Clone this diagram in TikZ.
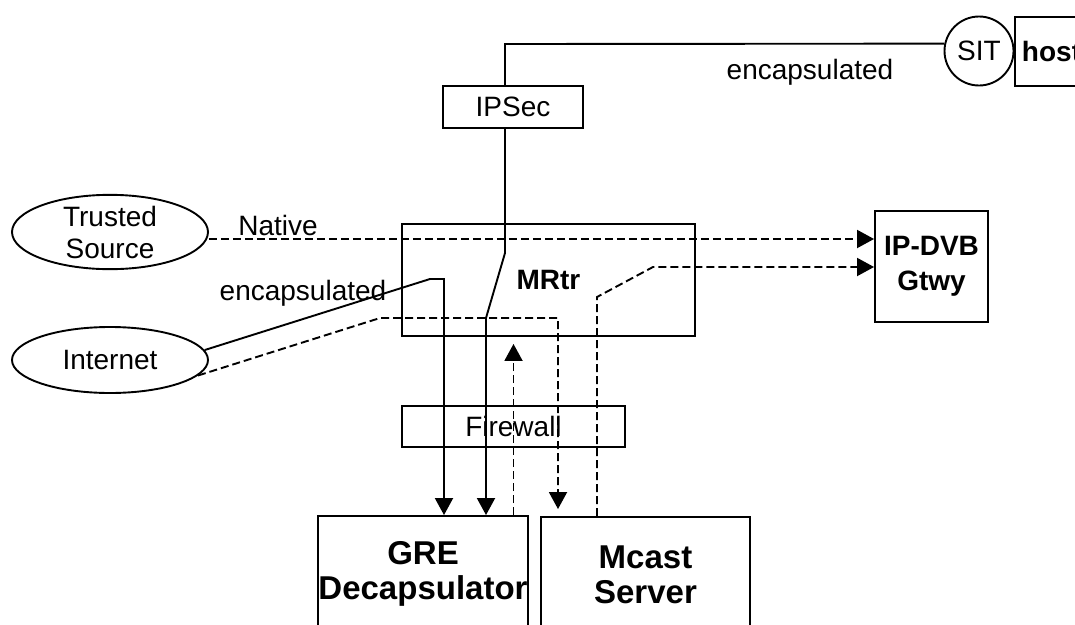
\documentclass[tikz,border=0pt]{standalone}
\usepackage{fontspec}
\setmainfont{Liberation Sans}
\usetikzlibrary{arrows.meta,shapes.geometric}
\begin{document}
\begin{tikzpicture}[x=1pt,y=-1pt, line width=1.9pt,
  every node/.style={font=\fontsize{28}{32}\selectfont},
  box/.style={draw, rectangle, inner sep=0pt, align=center},
  bfa/.style={font=\bfseries\fontsize{28}{35}\selectfont},
  bfb/.style={font=\bfseries\fontsize{33}{35}\selectfont},
  dsh/.style={dash pattern=on 8pt off 4pt},
  arr/.style={-{Triangle[length=17pt,width=18pt]}}
]
\clip (0,0) rectangle (1075,624);
\useasboundingbox (0,0) rectangle (1075,624);

% nodes
\node[ellipse, draw, minimum width=196pt, minimum height=70pt, inner sep=0pt, align=center] (ts) at (110,232) {Trusted\\Source};
\node[ellipse, draw, minimum width=196pt, minimum height=66pt, inner sep=0pt] (inet) at (110,360) {Internet};
\node[box, bfa, minimum width=293pt, minimum height=112pt] (mrtr) at (548.5,280) {MRtr};
\node[box, minimum width=140pt, minimum height=42pt] (ipsec) at (513,107) {IPSec};
\node[box, minimum width=223pt, minimum height=41pt] (fw) at (513.5,426.5) {Firewall};
\node[box, bfb, minimum width=210pt, minimum height=116pt] (gre) at (423,574) {GRE\\Decapsulator};
\node[box, bfb, minimum width=209pt, minimum height=116pt] (mcast) at (645.5,575) {Mcast\\Server};
\node[box, bfa, minimum width=113pt, minimum height=111pt] (dvb) at (931.5,266.5) {IP-DVB\\Gtwy};
\node[circle, draw, minimum size=69pt, inner sep=0pt] (sit) at (979,51) {SIT};
\node[draw, anchor=west, minimum height=69pt, text width=100pt, inner xsep=7pt, inner ysep=0pt, align=left, bfa] (host) at (1014,51.5) {host};

% labels
\node (lnative) at (278,225) {Native};
\node (lenc1) at (303,293) {encapsulated};
\node (lenc2) at (810,72) {encapsulated};

% coordinates
\coordinate (tA) at (505,44);
\coordinate (tB) at (505,253);
\coordinate (tC) at (486,318);
\coordinate (eA) at (430,279);
\coordinate (eB) at (444,279);
\coordinate (dA) at (380,318);
\coordinate (dB) at (558,318);
\coordinate (mA) at (597,297);
\coordinate (mB) at (653,267);
\coordinate (nA) at ([yshift=-7pt]ts.east);

% connectors
\draw (sit.168) -- (tA) -- (ipsec.north -| tA);
\draw[arr] (ipsec.south -| tA) -- (tB) -- (tC) -- (gre.north -| tC);
\draw[arr] (inet.6) -- (eA) -- (eB) -- (gre.north -| eB);
\draw[dsh, arr, shorten >=7pt] (inet.350) -- (dA) -- (dB) -- (mcast.north -| dB);
\draw[dsh, arr, shorten >=7pt] (gre.north -| fw.center) -- (mrtr.south -| fw.center);
\draw[dsh, arr] (mcast.north -| mA) -- (mA) -- (mB) -- (mB -| dvb.west);
\draw[dsh, arr] (nA) -- (nA -| dvb.west);
\end{tikzpicture}
\end{document}
